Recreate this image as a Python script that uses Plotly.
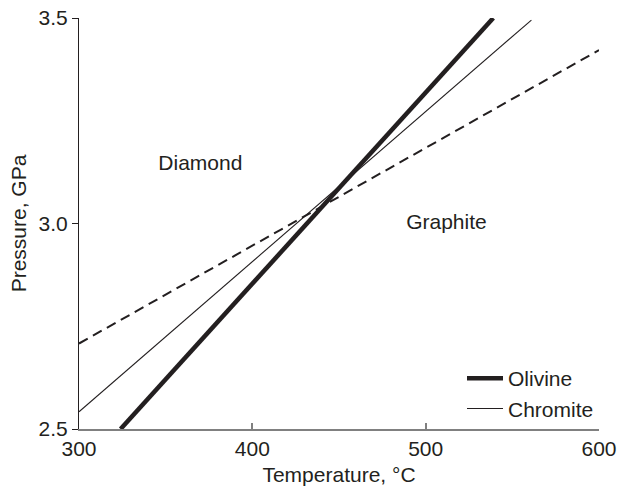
import plotly.graph_objects as go

# Boundary lines (temperature in °C, pressure in GPa)
olivine_T = [324, 539]
olivine_P = [2.5, 3.5]
chromite_T = [300, 561]
chromite_P = [2.542, 3.495]
dashed_T = [300, 600]
dashed_P = [2.708, 3.422]

# Region labels
region_labels = ["Diamond", "Graphite"]
region_T = [370, 512]
region_P = [3.142, 3.0]

x_ticks = [300, 400, 500, 600]
y_ticks = [2.5, 3.0, 3.5]
y_ticklabels = ["2.5", "3.0", "3.5"]

txt = "#231f20"
font = dict(family="Liberation Sans, Arial, sans-serif", size=21, color=txt)

fig = go.Figure()
fig.add_trace(go.Scatter(x=dashed_T, y=dashed_P, mode="lines",
                         line=dict(color="#231f20", width=2, dash="10px,6px"),
                         showlegend=False, hoverinfo="skip"))
fig.add_trace(go.Scatter(x=chromite_T, y=chromite_P, mode="lines", name="Chromite",
                         line=dict(color="#231f20", width=1.1), legendgroup="b",
                         legendrank=2))
fig.add_trace(go.Scatter(x=olivine_T, y=olivine_P, mode="lines", name="Olivine",
                         line=dict(color="#231f20", width=4.5), legendgroup="a",
                         legendrank=1))
fig.add_trace(go.Scatter(x=region_T, y=region_P, mode="text", text=region_labels,
                         textfont=font, showlegend=False, hoverinfo="skip",
                         cliponaxis=False))

fig.update_layout(
    width=617, height=494,
    margin=dict(l=79, r=18, t=18, b=65, autoexpand=False),
    paper_bgcolor="white", plot_bgcolor="white",
    font=font,
    legend=dict(x=1, xanchor="right", y=0.0, yanchor="bottom",
                bgcolor="rgba(0,0,0,0)", font=font, tracegroupgap=0,
                traceorder="grouped", itemwidth=36),
    xaxis=dict(range=[300, 600], tickvals=x_ticks, showgrid=False, zeroline=False,
               showline=True, linecolor="#808080", linewidth=2,
               ticks="inside", ticklen=6, tickcolor="#808080", tickwidth=1.5,
               automargin=False, ticklabeloverflow="allow",
               title=dict(text="Temperature, °C", font=font, standoff=8),
               tickfont=font),
    yaxis=dict(range=[2.5, 3.5], tickvals=y_ticks, ticktext=y_ticklabels,
               showgrid=False, zeroline=False,
               showline=True, linecolor="#231f20", linewidth=1.2,
               ticks="outside", ticklen=6, tickcolor="#231f20", tickwidth=1,
               automargin=False, ticklabeloverflow="allow",
               title=dict(text="Pressure, GPa", font=font, standoff=6),
               tickfont=font),
)

fig.write_html(
    "out.html",
    config={"displayModeBar": False},
    post_script="document.body.style.margin='0';document.body.style.overflow='hidden';",
)
